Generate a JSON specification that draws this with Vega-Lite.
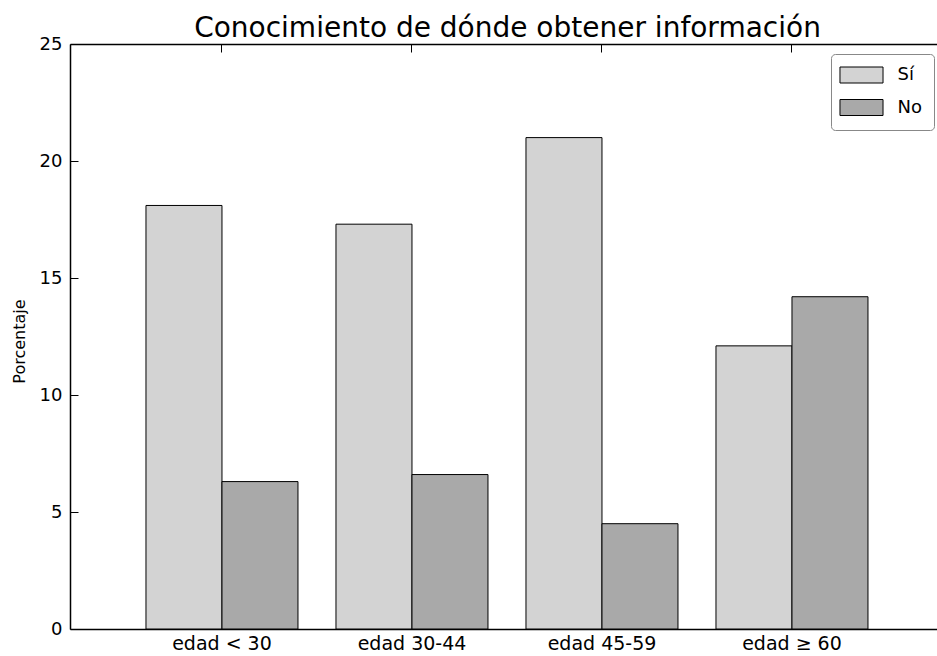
{
  "$schema": "https://vega.github.io/schema/vega-lite/v6.json",
  "width": 867,
  "height": 585,
  "autosize": {"type": "none"},
  "padding": {"left": 70, "top": 44, "right": 0, "bottom": 27},
  "background": "white",
  "config": {"view": {"stroke": null}, "font": "DejaVu Sans"},
  "title": {"text": "Conocimiento de dónde obtener información", "fontSize": 28, "fontWeight": "normal", "font": "DejaVu Sans", "color": "black", "offset": -8, "anchor": "middle", "dx": 4},
  "data": {"values": [
    {"grupo": "edad < 30", "respuesta": "Sí", "porcentaje": 18.1},
    {"grupo": "edad < 30", "respuesta": "No", "porcentaje": 6.3},
    {"grupo": "edad 30-44", "respuesta": "Sí", "porcentaje": 17.3},
    {"grupo": "edad 30-44", "respuesta": "No", "porcentaje": 6.6},
    {"grupo": "edad 45-59", "respuesta": "Sí", "porcentaje": 21.0},
    {"grupo": "edad 45-59", "respuesta": "No", "porcentaje": 4.5},
    {"grupo": "edad ≥ 60", "respuesta": "Sí", "porcentaje": 12.1},
    {"grupo": "edad ≥ 60", "respuesta": "No", "porcentaje": 14.2}
  ]},
  "layer": [
    {
      "mark": {"type": "bar", "stroke": "black", "strokeWidth": 1},
      "encoding": {
        "x": {"field": "grupo", "type": "nominal", "sort": ["edad < 30", "edad 30-44", "edad 45-59", "edad ≥ 60"],
          "scale": {"paddingInner": 0.2, "paddingOuter": 0.3816, "align": 0.524},
          "axis": {"orient": "bottom", "title": null, "labelAngle": 0, "labelFontSize": 19, "labelColor": "black", "labelPadding": 5, "domainColor": "black", "domainWidth": 1.5, "ticks": false}},
        "xOffset": {"field": "respuesta", "type": "nominal", "sort": ["Sí", "No"], "scale": {"paddingInner": 0, "paddingOuter": 0}},
        "y": {"field": "porcentaje", "type": "quantitative", "scale": {"domain": [0, 25], "nice": false},
          "axis": {"values": [0, 5, 10, 15, 20, 25], "title": "Porcentaje", "titleFontSize": 16, "titleFontWeight": "normal", "titleColor": "black", "titleX": -46, "titleY": 297, "titleAnchor": "middle", "titleAlign": "center", "titleBaseline": "alphabetic", "titleAngle": -90, "labelFontSize": 18, "labelColor": "black", "tickSize": -8, "tickColor": "black", "domainColor": "black", "domainWidth": 1.5, "grid": false, "labelPadding": 16}},
        "color": {"field": "respuesta", "type": "nominal", "sort": ["Sí", "No"], "scale": {"range": ["#d3d3d3", "#a9a9a9"]},
          "legend": {"orient": "none", "legendX": 761, "legendY": 10, "title": null,
            "symbolType": "M-2.69,-1H2.69V1H-2.69Z", "symbolSize": 256, "symbolStrokeColor": "black", "symbolStrokeWidth": 1, "symbolOffset": 9.5,
            "labelFontSize": 18, "labelColor": "black", "labelOffset": 27, "rowPadding": 12.5, "padding": 12,
            "fillColor": "white", "strokeColor": "#888", "cornerRadius": 4}}
      }
    },
    {
      "mark": {"type": "bar", "opacity": 0},
      "encoding": {
        "x": {"field": "grupo", "type": "nominal", "sort": ["edad < 30", "edad 30-44", "edad 45-59", "edad ≥ 60"],
          "axis": {"orient": "top", "title": null, "labels": false, "tickSize": -8, "tickColor": "black", "domainColor": "black", "domainWidth": 1.5}},
        "xOffset": {"field": "respuesta", "type": "nominal", "sort": ["Sí", "No"]}
      }
    }
  ],
  "resolve": {"axis": {"x": "independent"}}
}
